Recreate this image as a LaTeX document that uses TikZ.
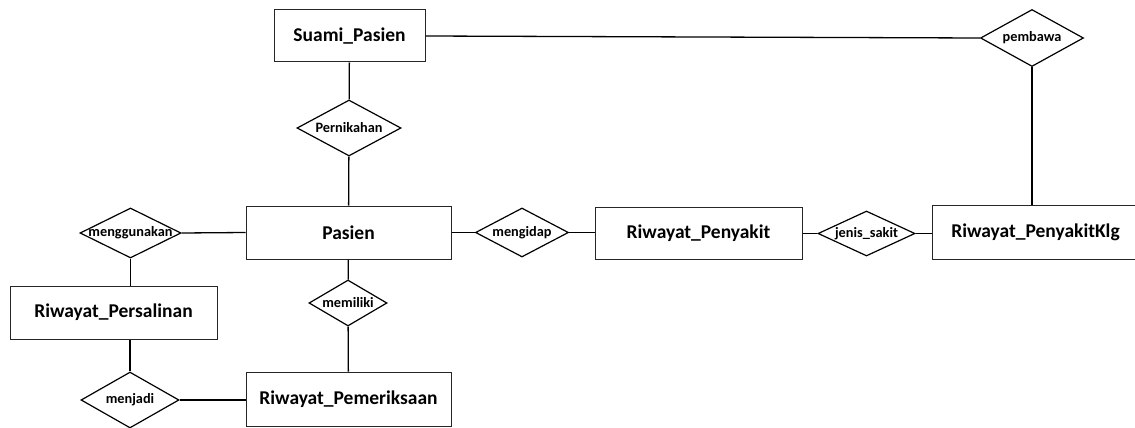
\documentclass[tikz,border=0pt]{standalone}
\usepackage{fontspec}
\setmainfont{Carlito}
\usetikzlibrary{shapes.geometric}
\tikzset{
  entity/.style={draw=black!85, line width=1pt, minimum width=205pt, minimum height=53pt, inner sep=0pt, font=\bfseries\fontsize{19.5}{20}\selectfont},
  rel/.style={draw=black, line width=1.2pt, diamond, inner sep=0pt, font=\bfseries\fontsize{14.3}{15}\selectfont},
  conn/.style={line width=1.3pt, black}
}
\begin{document}
\begin{tikzpicture}[x=1pt,y=-1pt]
\useasboundingbox (0,0) rectangle (1135,428);
\clip (0,0) rectangle (1135,428);
% entities
\node[entity, minimum width=151pt, minimum height=52pt] (suami) at (349.5,36) {Suami\_Pasien};
\node[entity] (pasien) at (348.5,232.5) {Pasien};
\node[entity, minimum width=207pt] (persalinan) at (113.5,312.5) {Riwayat\_Persalinan};
\node[entity, minimum height=54pt] (periksa) at (348.5,399) {Riwayat\_Pemeriksaan};
\node[entity, minimum width=207pt, minimum height=52pt] (penyakit) at (698.5,233) {Riwayat\_Penyakit};
\node[entity, minimum width=207pt, minimum height=54pt] (klg) at (1035.5,232) {Riwayat\_PenyakitKlg};
% relationships
\node[rel, minimum width=104pt, minimum height=56pt] (nikah) at (349,128) {\makebox[0pt]{Pernikahan}};
\node[rel, minimum width=103pt, minimum height=57pt] (bawa) at (1032,38) {\makebox[0pt]{pembawa}};
\node[rel, minimum width=101pt, minimum height=50pt] (guna) at (130.5,233) {\makebox[0pt]{menggunakan}};
\node[rel, minimum width=98pt, minimum height=56pt] (jadi) at (130,400) {\makebox[0pt]{menjadi}};
\node[rel, minimum width=78pt, minimum height=46pt] (milik) at (348,303) {\makebox[0pt]{memiliki}};
\node[rel, minimum width=93pt, minimum height=49pt] (idap) at (522,232.5) {\makebox[0pt]{mengidap}};
\node[rel, minimum width=97pt, minimum height=45pt] (jenis) at (866.5,233.5) {\makebox[0pt]{jenis\_sakit}};
% connectors
\draw[conn] (suami) -- (nikah);
\draw[conn] (nikah) -- (pasien);
\draw[conn] (suami.east) -- (bawa.west);
\draw[conn] (bawa.south) -- (bawa.south |- klg.north);
\draw[conn] (guna.east) -- (pasien.west);
\draw[conn] (guna.south) -- (guna.south |- persalinan.north);
\draw[conn] (jadi.north |- persalinan.south) -- (jadi.north);
\draw[conn] (jadi.east) -- (jadi.east -| periksa.west);
\draw[conn] (pasien) -- (milik);
\draw[conn] (milik) -- (periksa);
\draw[conn] (pasien.east) -- (idap.west);
\draw[conn] (idap.east) -- (idap.east -| penyakit.west);
\draw[conn] (penyakit.east |- jenis.west) -- (jenis.west);
\draw[conn] (jenis.east) -- (jenis.east -| klg.west);
\end{tikzpicture}
\end{document}
